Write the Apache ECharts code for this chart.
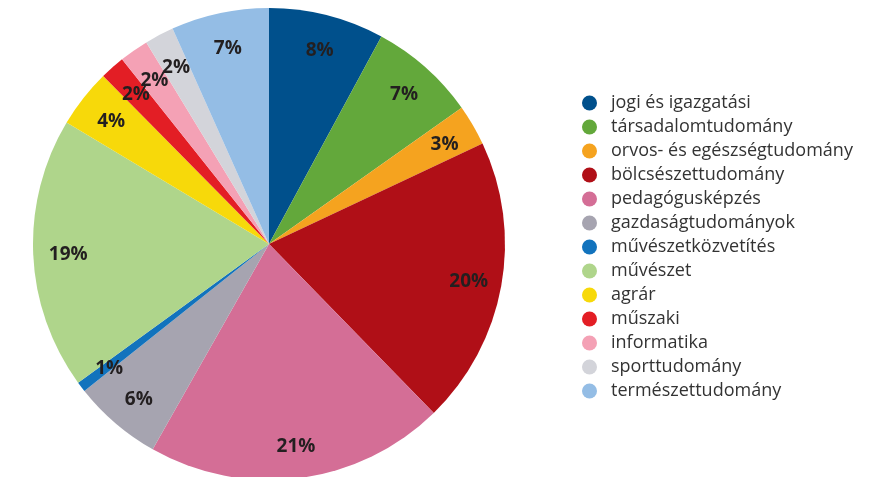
<!DOCTYPE html>
<html>
<head>
<meta charset="utf-8">
<script src="https://cdn.jsdelivr.net/npm/echarts@6/dist/echarts.min.js"></script>
<style>
  html,body{margin:0;padding:0;background:#fff}
  #pie{width:874px;height:477px}
</style>
</head>
<body>
<div id="pie"></div>
<script>
// kategóriák, óramutató járásával egyezően, felülről
const categories = ['jogi és igazgatási','társadalomtudomány','orvos- és egészségtudomány','bölcsészettudomány','pedagógusképzés','gazdaságtudományok','művészetközvetítés','művészet','agrár','műszaki','informatika','sporttudomány','természettudomány']
const shares = [7.9, 7.3, 2.8, 19.7, 20.5, 6.1, 0.7, 18.6, 4.0, 1.7, 2.0, 2.0, 6.7]
const colors = ['#00508c','#63a83b','#f5a31f','#b00f17','#d46e96','#a6a4b0','#1273bd','#afd58b','#f7d90a','#e31e25','#f4a1b5','#d3d4da','#94bde5']

const data = categories.map((name, i) => ({ name: name, value: shares[i] }))

const myChart = echarts.init(document.querySelector('#pie'))
const option = {
  color: colors,
  animation: false,
  legend: {
    orient: 'vertical',
    left: 577,
    top: 89,
    icon: 'circle',
    itemWidth: 15,
    itemHeight: 15,
    itemGap: 6,
    textStyle: {
      fontFamily: 'Open Sans',
      fontSize: 18,
      lineHeight: 18,
      color: '#333',
      padding: [0, 0, 0, 9]
    },
    data: categories
  },
  series: [
    {
      name: 'szak',
      type: 'pie',
      center: [269, 244],
      radius: [0, 236],
      startAngle: 90,
      clockwise: true,
      label: { show: false },
      labelLine: { show: false },
      emphasis: { disabled: true },
      data: data
    },
    {
      // csak a címkék helye miatt
      name: 'cimkek',
      type: 'pie',
      center: [270, 246],
      radius: [164, 234],
      startAngle: 90,
      clockwise: true,
      silent: true,
      legendHoverLink: false,
      avoidLabelOverlap: false,
      labelLayout: { hideOverlap: false },
      itemStyle: { color: 'transparent' },
      label: {
        show: true,
        position: 'inside',
        formatter: p => Math.round(p.value) + '%',
        fontFamily: 'Open Sans',
        fontWeight: 'bold',
        fontSize: 19,
        color: '#231f20'
      },
      labelLine: { show: false },
      emphasis: { disabled: true },
      data: data
    }
  ]
}
myChart.setOption(option)
</script>
</body>
</html>
